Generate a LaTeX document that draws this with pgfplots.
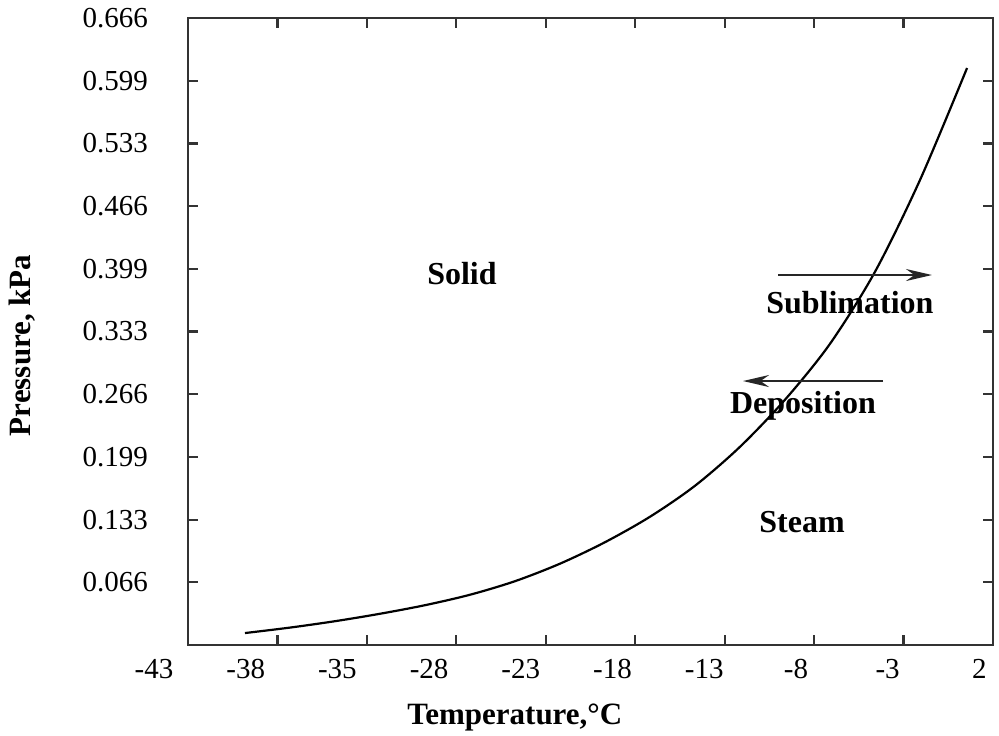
\documentclass[border=0pt]{standalone}
\usepackage{pgfplots}
\pgfplotsset{compat=1.18}
\usepackage{fontspec}
\setmainfont{Liberation Serif}
\usetikzlibrary{arrows.meta}

\begin{document}
\begin{tikzpicture}
\useasboundingbox (-94pt,-45pt) rectangle (405.5pt,322.5pt);
\begin{axis}[
    scale only axis,
    width=402.5pt,
    height=313.5pt,
    xmin=0, xmax=9,
    ymin=0, ymax=0.666,
    xtick={0,1,2,3,4,5,6,7,8,9},
    xticklabels={-43,-38,-35,-28,-23,-18,-13,-8,-3,2},
    ytick={0.0666,0.1332,0.1998,0.2664,0.333,0.3996,0.4662,0.5328,0.5994,0.666},
    yticklabels={0.066,0.133,0.199,0.266,0.333,0.399,0.466,0.533,0.599,0.666},
    tick align=inside,
    major tick length=5pt,
    tick style={line width=1.1pt, black!80},
    axis line style={line width=1.4pt, black!80},
    /pgf/number format/assume math mode=true,
    ticklabel style={font=\fontsize{14.5}{17}\selectfont},
    xticklabel style={xshift={-17pt+1.13pt*\ticknum}, yshift=-3.5pt},
    yticklabel style={xshift=-16.5pt},
    xlabel={\textbf{Temperature,°C}},
    ylabel={\textbf{Pressure, kPa}},
    label style={font=\fontsize{15.5}{18}\selectfont},
    xlabel style={at={(axis description cs:0.406,-0.115)}, anchor=center},
    ylabel style={at={(axis description cs:-0.206,0.478)}, anchor=center},
    clip=false,
]
% sublimation curve
\addplot[smooth, line width=1.1pt, black] coordinates {
    (0.637,0.0127)
    (1.140,0.0185)
    (1.644,0.0253)
    (2.147,0.0332)
    (2.650,0.0423)
    (3.153,0.0534)
    (3.656,0.0678)
    (4.159,0.0864)
    (4.662,0.1092)
    (5.166,0.1363)
    (5.669,0.1692)
    (6.172,0.2106)
    (6.675,0.2606)
    (7.178,0.3200)
    (7.681,0.3965)
    (8.185,0.4942)
    (8.710,0.6129)
};
% arrows
\addplot[line width=1.2pt, black!85, -{Stealth[length=13pt,width=6pt]}] coordinates {(6.597,0.393) (8.318,0.393)};
\addplot[line width=1.2pt, black!85, -{Stealth[length=13pt,width=6pt]}] coordinates {(7.771,0.2804) (6.205,0.2804)};

\node[font=\fontsize{16}{19}\selectfont\bfseries] at (axis cs:3.063,0.395) {Solid};
\node[font=\fontsize{16}{19}\selectfont\bfseries] at (axis cs:7.40,0.3633) {Sublimation};
\node[font=\fontsize{16}{19}\selectfont\bfseries] at (axis cs:6.876,0.2539) {Deposition};
\node[font=\fontsize{16}{19}\selectfont\bfseries] at (axis cs:6.865,0.1307) {Steam};
\end{axis}
\end{tikzpicture}
\end{document}
